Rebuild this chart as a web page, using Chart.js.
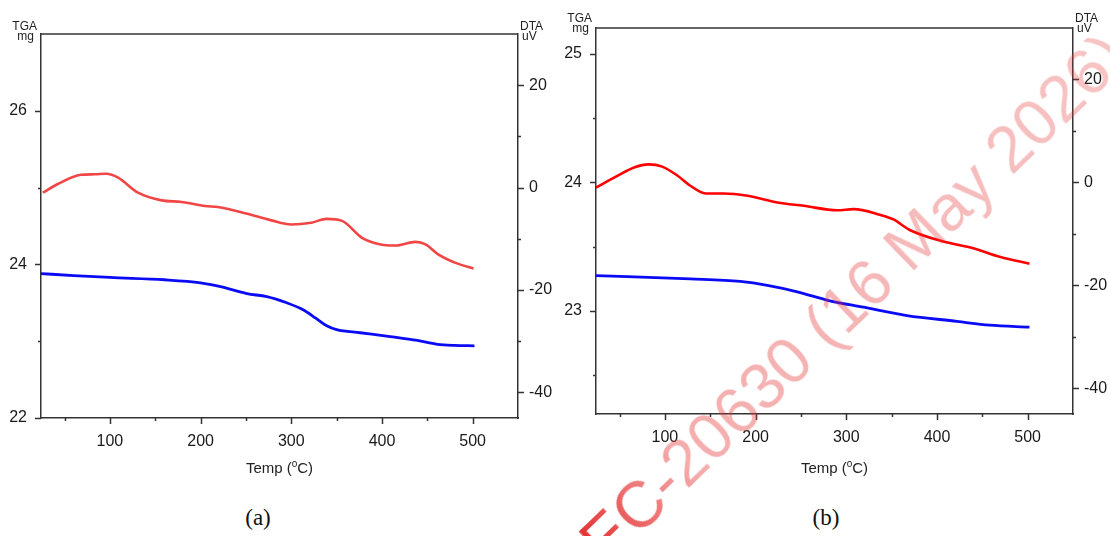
<!DOCTYPE html>
<html>
<head>
<meta charset="utf-8">
<title>TGA / DTA</title>
<script src="https://cdn.jsdelivr.net/npm/chart.js@4.4.1/dist/chart.umd.min.js"></script>
<style>
body{margin:0;background:#fff;width:1110px;height:536px;position:relative;overflow:hidden;}
.panel{position:absolute;top:0;width:555px;height:490px;}
#wrapA{left:0;}
#wrapB{left:555px;}
.cap{position:absolute;top:505px;font:23px "Liberation Serif","Times New Roman",serif;color:#111;transform:translateX(-50%);}
#wm{position:absolute;left:853px;top:298px;white-space:nowrap;font:65px "Liberation Sans",Arial,sans-serif;
  transform:translate(-50%,-50%) rotate(-44deg);pointer-events:none;
  background:linear-gradient(90deg,rgba(225,25,25,0.9) 0%,rgba(228,50,50,0.4) 18%,rgba(228,60,60,0.3) 100%);
  -webkit-background-clip:text;background-clip:text;color:transparent;}
</style>
</head>
<body>
<div class="panel" id="wrapA"><canvas id="chartA" width="555" height="490"></canvas></div>
<div class="panel" id="wrapB"><canvas id="chartB" width="555" height="490"></canvas></div>
<div class="cap" style="left:258px">(a)</div>
<div class="cap" style="left:826px">(b)</div>
<div id="wm">EC-20630 (16 May 2026)</div>
<script>
// TEMPERATURE AXIS (both panels)
const tempMin = 24, tempMax = 550;
const tempTicks = [50,100,150,200,250,300,350,400,450,500];
const tempLabels = [100,200,300,400,500];

// DTA AXIS (both panels)
const dtaMin = -45, dtaMax = 30;
const dtaTicks = [-40,-30,-20,-10,0,10,20];
const dtaLabels = [-40,-20,0,20];

// PANEL (a)
const tgaMinA = 22, tgaMaxA = 27;
const tgaTicksA = [22,23,24,25,26];
const tgaLabelsA = [22,24,26];
const tempTgaA = [24,60,100,160,200,222,251,273,295,313,327,339,350,376,409,439,461,480,502];
const tgaA = [23.88,23.855,23.83,23.80,23.76,23.71,23.62,23.58,23.50,23.41,23.30,23.20,23.15,23.11,23.06,23.01,22.96,22.945,22.94];
const tempDtaA = [26,42,68,83,96,109,131,157,179,205,219,249,278,300,322,339,356,378,396,415,437,448,462,481,501];
const dtaA = [-1.0,0.65,2.5,2.6,2.7,1.95,-1.0,-2.5,-2.8,-3.6,-3.8,-5.0,-6.4,-7.2,-6.85,-6.1,-6.5,-9.8,-11.0,-11.3,-10.6,-11.1,-13.05,-14.7,-15.8];

// PANEL (b)
const tgaMinB = 22.2, tgaMaxB = 25.2;
const tgaTicksB = [22.5,23,23.5,24,24.5,25];
const tgaLabelsB = [23,24,25];
const tempTgaB = [24,128,183,213,246,282,319,367,422,458,502];
const tgaB = [23.275,23.25,23.23,23.20,23.15,23.08,23.03,22.965,22.92,22.89,22.875];
const tempDtaB = [24,48,66,82,97,114,128,145,165,191,224,253,290,308,337,352,370,407,440,470,502];
const dtaB = [-1.0,1.3,2.9,3.5,3.07,1.3,-0.65,-2.15,-2.15,-2.6,-3.9,-4.55,-5.4,-5.2,-6.3,-7.2,-9.25,-11.5,-12.8,-14.5,-15.8];

const FONT = '"Liberation Sans", Arial, sans-serif';
const AXIS = '#333';

const zip = (xs, ys) => xs.map((x,i)=>({x, y:ys[i]}));

// frame top line, tick marks, unit labels, x title with superscript
const framePlugin = {
  id:'frame',
  afterDraw(chart, args, o){
    const {ctx, chartArea:a, scales} = chart;
    ctx.save();
    ctx.strokeStyle = AXIS; ctx.lineWidth = 1.5;
    ctx.beginPath(); ctx.moveTo(a.left, a.top); ctx.lineTo(a.right, a.top); ctx.stroke();
    ['x','yL','yR'].forEach(id=>{
      const s = scales[id];
      s.ticks.forEach(t=>{
        const len = t.label ? 6 : 3;
        const p = Math.round(s.getPixelForValue(t.value)) + 0.5;
        ctx.beginPath();
        if(id==='x'){ ctx.moveTo(p, a.bottom); ctx.lineTo(p, a.bottom+len); }
        else if(id==='yL'){ ctx.moveTo(a.left, p); ctx.lineTo(a.left-len, p); }
        else { ctx.moveTo(a.right, p); ctx.lineTo(a.right+len, p); }
        ctx.stroke();
      });
    });
    ctx.fillStyle = '#222';
    ctx.font = '12px ' + FONT;
    ctx.textAlign = 'right';
    ctx.fillText('TGA', a.left-4, a.top+o.up);
    ctx.fillText('mg', a.left-7, a.top+o.up+10);
    ctx.textAlign = 'left';
    ctx.fillText('DTA', a.right+2, a.top+o.up);
    ctx.fillText('uV', a.right+4, a.top+o.up+10);
    // Temp (oC)
    ctx.font = '15px ' + FONT;
    const p1 = 'Temp (', p3 = 'C)';
    const w1 = ctx.measureText(p1).width, w3 = ctx.measureText(p3).width;
    ctx.font = '10px ' + FONT;
    const w2 = ctx.measureText('o').width;
    let x = (a.left + a.right)/2 - (w1+w2+w3)/2;
    const y = 473;
    ctx.font = '15px ' + FONT; ctx.fillText(p1, x, y); x += w1;
    ctx.font = '10px ' + FONT; ctx.fillText('o', x, y-6); x += w2;
    ctx.font = '15px ' + FONT; ctx.fillText(p3, x, y);
    ctx.restore();
  }
};

function makeChart(id, p){
  const tickFont = {size:16, family:FONT};
  const noGrid = {display:false, drawTicks:false};
  return new Chart(document.getElementById(id), {
    type:'line',
    data:{datasets:[
      {label:'DTA', data:zip(p.tempDta, p.dta), yAxisID:'yR', borderColor:p.red, borderWidth:2.6,
       pointRadius:0, cubicInterpolationMode:'monotone', fill:false},
      {label:'TGA', data:zip(p.tempTga, p.tga), yAxisID:'yL', borderColor:'#0a0af5', borderWidth:2.8,
       pointRadius:0, cubicInterpolationMode:'monotone', fill:false}
    ]},
    options:{
      responsive:false, animation:false,
      layout:{padding:{top:p.top, left:p.left, right:0, bottom:0}},
      plugins:{legend:{display:false}, tooltip:{enabled:false}, frame:{up:p.up}},
      scales:{
        x:{type:'linear', min:tempMin, max:tempMax, grid:noGrid,
           border:{color:AXIS, width:1.5},
           afterBuildTicks:s=>{ s.ticks = tempTicks.map(v=>({value:v})); },
           ticks:{autoSkip:false, maxRotation:0, padding:14, color:'#1a1a1a', font:tickFont,
                  callback:v=>tempLabels.includes(v) ? String(v) : ''},
           afterFit:s=>{ s.height = 490 - p.bottom; }},
        yL:{type:'linear', position:'left', min:p.tgaMin, max:p.tgaMax, grid:noGrid,
            border:{color:AXIS, width:1.5},
            afterBuildTicks:s=>{ s.ticks = p.tgaTicks.map(v=>({value:v})); },
            ticks:{autoSkip:false, padding:14, color:'#1a1a1a', font:tickFont,
                   callback:v=>p.tgaLabels.includes(v) ? String(v) : ''},
            afterFit:s=>{ s.width = 41 - p.left; }},
        yR:{type:'linear', position:'right', min:dtaMin, max:dtaMax, grid:noGrid,
            border:{color:AXIS, width:1.5},
            afterBuildTicks:s=>{ s.ticks = dtaTicks.map(v=>({value:v})); },
            ticks:{autoSkip:false, padding:11, color:'#1a1a1a', font:tickFont,
                   callback:v=>dtaLabels.includes(v) ? String(v) : ''},
            afterFit:s=>{ s.width = 555 - p.right; }}
      }
    },
    plugins:[framePlugin]
  });
}

makeChart('chartA', {tempTga:tempTgaA, tga:tgaA, tempDta:tempDtaA, dta:dtaA, red:'#f04646',
  tgaMin:tgaMinA, tgaMax:tgaMaxA, tgaTicks:tgaTicksA, tgaLabels:tgaLabelsA,
  top:34, bottom:418, left:0, right:518, up:-4});
makeChart('chartB', {tempTga:tempTgaB, tga:tgaB, tempDta:tempDtaB, dta:dtaB, red:'#ff0000',
  tgaMin:tgaMinB, tgaMax:tgaMaxB, tgaTicks:tgaTicksB, tgaLabels:tgaLabelsB,
  top:28, bottom:414, left:0, right:518, up:-6});
</script>
</body>
</html>
